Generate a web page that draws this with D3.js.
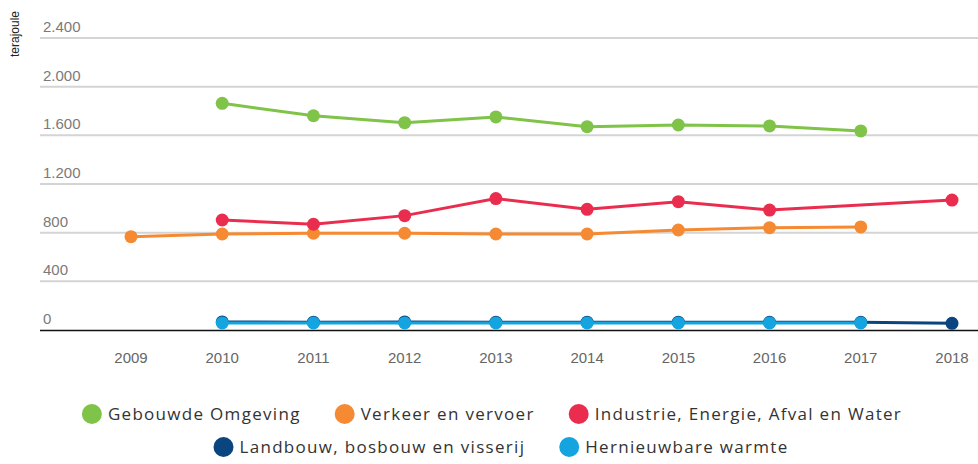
<!DOCTYPE html>
<html>
<head>
<meta charset="utf-8">
<script src="https://cdn.jsdelivr.net/npm/d3@7"></script>
<style>
  body { margin: 0; background: #fff; }
  svg { display: block; }
</style>
</head>
<body>
<svg id="chart" width="978" height="464"></svg>
<script>
// data
const years = [2009, 2010, 2011, 2012, 2013, 2014, 2015, 2016, 2017, 2018]
const yTicks = [0, 400, 800, 1200, 1600, 2000, 2400]

const gebouwde = [null, 1863, 1761, 1704, 1751, 1671, 1685, 1677, 1636, null]
const verkeer = [767, 789, 795, 795, 789, 789, 822, 841, 847, null]
const industrie = [null, 904, 869, 940, 1080, 992, 1055, 986, null, 1068]
const landbouw = [null, 66, 64, 66, 64, 64, 64, 63, 63, 55]
const hernieuwbaar = [null, 58, 58, 58, 58, 58, 58, 58, 58, null]

const seriesNames = ["Gebouwde Omgeving", "Verkeer en vervoer", "Industrie, Energie, Afval en Water",
  "Landbouw, bosbouw en visserij", "Hernieuwbare warmte"]
const seriesColors = ["#7fc348", "#f58a33", "#ea2d4f", "#0a457f", "#14a5e0"]
const seriesValues = [gebouwde, verkeer, industrie, landbouw, hernieuwbaar]

const svg = d3.select("#chart")
const font = "'Liberation Sans', Arial, sans-serif"

const x = d3.scalePoint().domain(years).range([131, 952])
const y = d3.scaleLinear().domain([0, 2400]).range([330, 38])

// grid + y labels
const grid = svg.append("g")
grid.selectAll("line").data(yTicks.filter(d => d > 0)).enter().append("line")
  .attr("x1", 40).attr("x2", 978)
  .attr("y1", d => y(d)).attr("y2", d => y(d))
  .attr("stroke", "#d4d4d4").attr("stroke-width", 2)

grid.selectAll("text").data(yTicks).enter().append("text")
  .attr("x", 43).attr("y", d => y(d) - 6)
  .attr("font-family", font).attr("font-size", 15).attr("fill", "#7a7a7a")
  .text(d => d3.format(",")(d).replace(/,/g, "."))

// baseline
svg.append("line").attr("x1", 40).attr("x2", 978)
  .attr("y1", y(0) + 0.5).attr("y2", y(0) + 0.5)
  .attr("stroke", "#111").attr("stroke-width", 1.5)

// x axis labels
svg.append("g").selectAll("text").data(years).enter().append("text")
  .attr("x", d => x(d)).attr("y", 363).attr("text-anchor", "middle")
  .attr("font-family", font).attr("font-size", 15).attr("fill", "#666")
  .text(d => d)

// unit label
svg.append("text")
  .attr("transform", "translate(19,34) rotate(-90)")
  .attr("text-anchor", "middle")
  .attr("font-family", font).attr("font-size", 12).attr("fill", "#222")
  .text("terajoule")

// lines
const line = d3.line()
  .defined(d => d.v != null)
  .x(d => x(d.year)).y(d => y(d.v))

seriesValues.forEach((vals, i) => {
  const valid = years.map((yr, j) => ({ year: yr, v: vals[j] })).filter(d => d.v != null)
  const g = svg.append("g")
  g.append("path").datum(valid)
    .attr("d", line)
    .attr("fill", "none").attr("stroke", seriesColors[i]).attr("stroke-width", 3)
  g.selectAll("circle").data(valid).enter().append("circle")
    .attr("cx", d => x(d.year)).attr("cy", d => y(d.v)).attr("r", 6.5)
    .attr("fill", seriesColors[i])
})

// legend
const rows = [[0, 1, 2], [3, 4]]
const rowY = [414, 447]
const gap = 34
rows.forEach((row, r) => {
  const lg = svg.append("g")
  let cx = 0
  row.forEach(i => {
    const item = lg.append("g").attr("transform", `translate(${cx},0)`)
    item.append("circle").attr("cx", 10).attr("cy", 0).attr("r", 10).attr("fill", seriesColors[i])
    const t = item.append("text").attr("x", 26).attr("y", 6)
      .attr("font-family", "'Open Sans', sans-serif").attr("font-size", 17)
      .attr("letter-spacing", 1.3).attr("fill", "#333")
      .text(seriesNames[i])
    cx += 26 + t.node().getComputedTextLength() + gap
  })
  const w = cx - gap
  lg.attr("transform", `translate(${(r === 0 ? 492 : 501) - w / 2},${rowY[r]})`)
})
</script>
</body>
</html>
